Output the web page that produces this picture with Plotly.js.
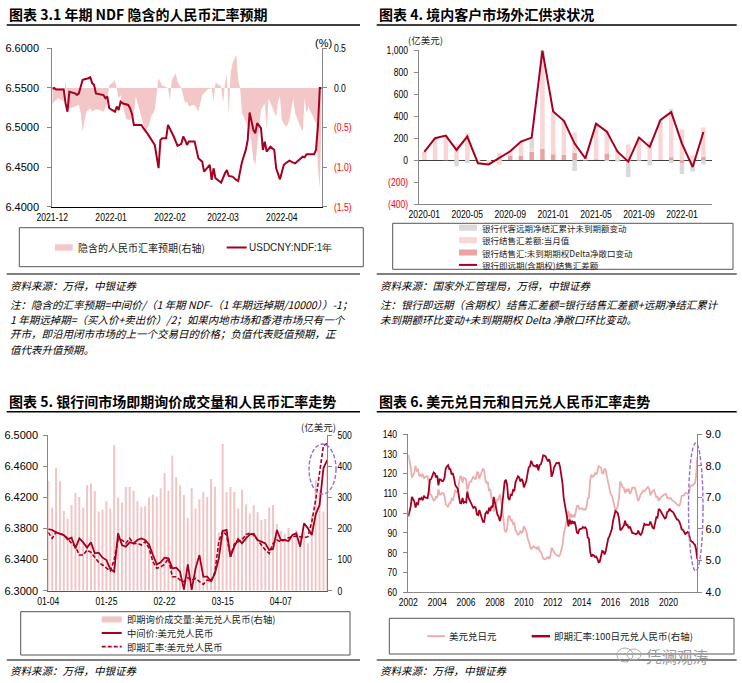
<!DOCTYPE html>
<html><head><meta charset="utf-8">
<script src="https://cdn.plot.ly/plotly-3.0.1.min.js"></script>
<style>html,body{margin:0;padding:0;background:#fff;overflow:hidden}#chart{width:742px;height:683px}</style>
</head><body><div id="chart"></div>
<script>
// ===== Chart 1: 1-year NDF implied CNY expectation =====
const ndfDates = ['2021-12-01','2021-12-02','2021-12-03','2021-12-06','2021-12-07','2021-12-08','2021-12-09','2021-12-10','2021-12-13','2021-12-14','2021-12-15','2021-12-16','2021-12-17','2021-12-20','2021-12-21','2021-12-22','2021-12-23','2021-12-24','2021-12-27','2021-12-28','2021-12-29','2021-12-30','2021-12-31','2022-01-03','2022-01-04','2022-01-05','2022-01-06','2022-01-07','2022-01-10','2022-01-11','2022-01-12','2022-01-13','2022-01-14','2022-01-17','2022-01-18','2022-01-20','2022-01-24','2022-01-26','2022-01-27','2022-01-28','2022-01-30','2022-01-31','2022-02-03','2022-02-05','2022-02-07','2022-02-08','2022-02-09','2022-02-10','2022-02-11','2022-02-14','2022-02-16','2022-02-18','2022-02-19','2022-02-21','2022-02-22','2022-02-23','2022-02-24','2022-02-25','2022-02-28','2022-03-02','2022-03-03','2022-03-04','2022-03-06','2022-03-08','2022-03-09','2022-03-11','2022-03-13','2022-03-14','2022-03-15','2022-03-17','2022-03-18','2022-03-19','2022-03-20','2022-03-21','2022-03-22','2022-03-23','2022-03-24','2022-03-26','2022-03-28','2022-03-29','2022-03-31','2022-04-02','2022-04-03','2022-04-05','2022-04-07','2022-04-08','2022-04-10','2022-04-12','2022-04-13','2022-04-14','2022-04-17','2022-04-18','2022-04-19','2022-04-20','2022-04-21','2022-04-22'];
const ndfValues = [6.5490,6.5500,6.5480,6.5475,6.5480,6.5306,6.5200,6.5452,6.5431,6.5410,6.5431,6.5517,6.5601,6.5622,6.5635,6.5560,6.5538,6.5431,6.5418,6.5410,6.5369,6.5390,6.5243,6.5200,6.5264,6.5222,6.5327,6.5306,6.5285,6.5243,6.5172,6.5033,6.5033,6.5033,6.4991,6.4928,6.4780,6.4486,6.4844,6.4865,6.4865,6.5033,6.4886,6.4768,6.4794,6.4886,6.4843,6.4780,6.4822,6.4822,6.4611,6.4569,6.4443,6.4506,6.4527,6.4338,6.4485,6.4359,6.4304,6.4422,6.4464,6.4388,6.4380,6.4338,6.4325,6.4569,6.4717,6.4843,6.5190,6.4970,6.4928,6.5054,6.5021,6.4991,6.4717,6.4822,6.4696,6.4759,6.4717,6.4485,6.4346,6.4527,6.4548,6.4582,6.4557,6.4548,6.4590,6.4632,6.4624,6.4662,6.4662,6.4662,6.4717,6.5012,6.5500,6.5500];
const expDates = ['2021-12-01','2021-12-02','2021-12-04','2021-12-06','2021-12-07','2021-12-08','2021-12-09','2021-12-11','2021-12-13','2021-12-15','2021-12-16','2021-12-17','2021-12-18','2021-12-19','2021-12-21','2021-12-22','2021-12-24','2021-12-26','2021-12-28','2021-12-30','2021-12-31','2022-01-02','2022-01-03','2022-01-04','2022-01-05','2022-01-06','2022-01-07','2022-01-09','2022-01-11','2022-01-13','2022-01-14','2022-01-16','2022-01-18','2022-01-19','2022-01-21','2022-01-22','2022-01-24','2022-01-26','2022-01-28','2022-01-29','2022-01-31','2022-02-01','2022-02-02','2022-02-04','2022-02-05','2022-02-07','2022-02-09','2022-02-10','2022-02-11','2022-02-13','2022-02-14','2022-02-16','2022-02-18','2022-02-20','2022-02-21','2022-02-23','2022-02-24','2022-02-25','2022-02-27','2022-02-28','2022-03-01','2022-03-02','2022-03-03','2022-03-04','2022-03-05','2022-03-06','2022-03-08','2022-03-09','2022-03-10','2022-03-11','2022-03-13','2022-03-15','2022-03-16','2022-03-17','2022-03-18','2022-03-19','2022-03-20','2022-03-21','2022-03-23','2022-03-24','2022-03-25','2022-03-27','2022-03-29','2022-03-30','2022-03-31','2022-04-01','2022-04-03','2022-04-04','2022-04-05','2022-04-07','2022-04-08','2022-04-10','2022-04-12','2022-04-13','2022-04-14','2022-04-15','2022-04-17','2022-04-19','2022-04-20','2022-04-21','2022-04-22'];
const expValues = [-0.215,-0.173,-0.131,-0.152,-0.173,0.101,-0.257,-0.257,-0.236,-0.215,-0.321,-0.553,-0.405,-0.300,-0.257,-0.300,-0.270,-0.278,-0.300,-0.194,0.038,0.068,0.101,-0.025,-0.131,-0.089,-0.215,-0.397,-0.405,-0.342,-0.110,-0.278,-0.447,-0.553,-0.468,-0.363,-0.278,0.122,0.025,0.025,-0.004,-0.152,0.101,0.186,0.080,-0.004,-0.194,-0.173,-0.236,-0.215,-0.215,-0.300,-0.089,-0.046,-0.017,-0.004,-0.173,0.068,0.038,0.017,-0.194,0.059,0.165,-0.342,0.186,0.312,0.418,0.101,-0.004,-0.321,-0.426,-0.532,-0.700,-0.911,-0.975,-0.743,-0.489,-0.278,-0.194,-0.532,-0.131,-0.236,-0.363,-0.173,-0.110,-0.405,-0.489,-0.468,-0.405,-0.131,-0.321,-0.447,-0.553,-0.131,-0.321,-0.236,-0.342,-0.447,-0.996,-1.270,-0.300];
const c1Ticks = ['2021-12','2022-01','2022-02','2022-03','2022-04'];

// ===== Chart 2: onshore FX supply/demand (亿美元) =====
const fxMonths = ['2020-01','2020-02','2020-03','2020-04','2020-05','2020-06','2020-07','2020-08','2020-09','2020-10','2020-11','2020-12','2021-01','2021-02','2021-03','2021-04','2021-05','2021-06','2021-07','2021-08','2021-09','2021-10','2021-11','2021-12','2022-01','2022-02','2022-03'];
const fxForwardChange = [0,58,-3,-57,-30,-5,-10,62,0,0,100,91,0,25,-100,-5,45,-12,-14,-155,-6,-49,80,-30,-98,-104,-40];
const fxSettleBalance = [68,140,225,148,243,-25,-30,-41,39,131,28,800,389,285,182,20,280,212,90,140,210,168,280,440,277,40,265];
const fxDeltaChange = [5,0,0,0,0,0,0,0,40,36,76,103,52,46,67,0,6,58,0,0,0,0,5,25,-30,0,30];
const fxTotal = [73,198,222,91,213,-30,-40,21,79,167,204,994,441,356,149,15,331,258,76,-15,204,119,365,435,149,-64,255];
const c2Ticks = ['2020-01','2020-05','2020-09','2021-01','2021-05','2021-09','2022-01'];

// ===== Chart 3: interbank spot volume & USD/CNY =====
const spotDates = ['01-04','01-05','01-06','01-07','01-10','01-11','01-12','01-13','01-14','01-17','01-18','01-19','01-20','01-21','01-24','01-25','01-26','01-27','01-28','02-07','02-08','02-09','02-10','02-11','02-14','02-15','02-16','02-17','02-18','02-21','02-22','02-23','02-24','02-25','02-28','03-01','03-02','03-03','03-04','03-07','03-08','03-09','03-10','03-11','03-14','03-15','03-16','03-17','03-18','03-21','03-22','03-23','03-24','03-25','03-28','03-29','03-30','03-31','04-01','04-06','04-07','04-08','04-11','04-12','04-13','04-14','04-15','04-18','04-19','04-20','04-21','04-22','04-25'];
const spotVolume = [352,267,395,352,256,230,275,314,301,267,339,344,320,254,260,287,264,468,299,283,333,333,321,288,269,272,299,308,302,329,378,321,433,365,338,307,234,331,264,294,316,302,359,334,187,471,316,333,318,264,325,277,248,275,252,227,230,267,275,213,192,183,202,168,195,170,190,152,243,355,323,254,400];
const midRate = [6.3792,6.3780,6.3750,6.3732,6.3715,6.3660,6.3681,6.3544,6.3672,6.3621,6.3553,6.3621,6.3480,6.3488,6.3424,6.3394,6.3278,6.3244,6.3737,6.3587,6.3565,6.3621,6.3608,6.3651,6.3672,6.3651,6.3595,6.3458,6.3338,6.3364,6.3424,6.3415,6.3287,6.3296,6.3244,6.3014,6.3338,6.3010,6.3287,6.3458,6.3180,6.3180,6.3124,6.3223,6.3415,6.3767,6.3780,6.3437,6.3565,6.3664,6.3608,6.3672,6.3724,6.3732,6.3651,6.3630,6.3608,6.3523,6.3535,6.3780,6.3651,6.3651,6.3638,6.3715,6.3737,6.3565,6.3865,6.3801,6.3715,6.3981,6.4101,6.4572,6.4679];
const spotRate = [6.3750,6.3672,6.3750,6.3732,6.3715,6.3672,6.3608,6.3565,6.3458,6.3458,6.3523,6.3493,6.3424,6.3364,6.3330,6.3287,6.3253,6.3394,6.3660,6.3651,6.3608,6.3672,6.3604,6.3608,6.3587,6.3630,6.3544,6.3373,6.3287,6.3308,6.3338,6.3415,6.3180,6.3180,6.3137,6.3116,6.3167,6.3137,6.3158,6.3116,6.3081,6.3137,6.3116,6.3244,6.3630,6.3767,6.3715,6.3437,6.3600,6.3630,6.3651,6.3724,6.3737,6.3715,6.3651,6.3578,6.3523,6.3480,6.3608,6.3651,6.3630,6.3651,6.3681,6.3694,6.3702,6.3694,6.3681,6.3694,6.3887,6.4165,6.4486,6.4863,6.4893];
const c3Ticks = ['01-04','01-25','02-22','03-15','04-07'];
const c3LeftTicks = [6.30, 6.34, 6.38, 6.42, 6.46, 6.50];

// ===== Chart 4: USD/JPY and 100JPY/CNY (monthly, 2002-04 .. 2022-04) =====
const jpFirstYear = 2002, jpFirstMonth = 4;
const usdjpy = [129.5,126.4,123.3,118.0,119.0,120.5,123.9,121.5,122.0,
118.7,119.3,118.6,119.9,117.4,118.3,118.7,118.7,114.8,109.5,109.2,107.7,
106.3,106.7,108.5,107.7,112.2,109.4,109.5,110.2,110.1,108.8,104.7,103.8,
103.3,104.9,104.9,107.2,106.6,108.8,111.9,110.6,111.2,114.9,118.5,118.5,
115.5,117.9,117.3,117.1,111.5,114.5,115.7,115.9,117.2,118.6,117.3,117.3,
120.6,120.5,117.3,118.9,120.8,122.6,121.6,116.7,115.0,115.8,111.2,112.3,
107.6,107.1,100.8,102.6,104.2,106.9,106.9,109.4,106.6,100.1,96.9,91.3,
90.4,92.5,97.9,98.8,96.4,96.6,94.5,94.9,91.4,90.3,89.1,89.5,
91.1,90.1,90.7,93.4,91.8,90.9,87.6,85.4,84.4,81.8,82.6,83.3,
82.6,82.6,81.7,83.2,81.1,80.5,79.3,77.0,76.8,76.7,77.5,77.8,
76.9,78.5,82.5,81.3,79.7,79.3,78.9,78.7,78.2,79.0,80.9,83.6,
89.1,93.1,94.8,97.7,101.1,97.3,99.7,97.8,99.2,97.8,100.1,103.5,
103.8,102.1,102.3,102.5,101.8,102.1,101.7,102.9,107.4,108.0,116.4,119.4,
118.3,118.8,120.4,119.5,120.8,123.7,123.3,123.0,120.1,120.1,122.6,121.6,
118.2,114.7,112.9,109.6,109.0,105.4,104.1,101.3,102.0,103.8,108.5,116.1,
114.9,113.1,112.9,110.1,112.2,110.9,112.4,109.8,110.8,112.9,112.8,112.9,
110.9,107.9,106.0,107.6,109.7,110.1,111.4,111.0,111.9,112.8,113.3,112.2,
108.9,110.5,111.2,111.7,109.9,108.1,108.2,106.2,107.5,108.1,108.9,109.2,
109.3,110.0,107.7,107.8,107.2,107.6,106.7,106.0,105.6,105.2,104.4,103.8,
103.8,105.4,108.7,109.1,109.1,110.1,110.2,109.8,110.2,113.1,114.0,113.9,
114.9,115.2,118.5,128.5];
const jpycny = [6.390,6.548,6.713,7.014,6.956,6.869,6.680,6.812,6.784,
6.973,6.938,6.979,6.903,7.050,6.997,6.973,6.973,7.210,7.559,7.580,7.685,
7.786,7.757,7.629,7.685,7.377,7.566,7.559,7.511,7.518,7.608,7.905,7.974,
8.013,7.890,7.890,7.721,7.765,7.607,7.390,7.324,7.275,7.041,6.819,6.810,
6.978,6.828,6.854,6.840,7.184,6.987,6.906,6.877,6.758,6.661,6.701,6.667,
6.451,6.432,6.598,6.493,6.349,6.223,6.225,6.487,6.539,6.477,6.673,6.563,
6.729,6.685,7.014,6.823,6.699,6.455,6.389,6.252,6.407,6.823,7.049,7.503,
7.555,7.384,6.977,6.913,7.085,7.070,7.228,7.197,7.473,7.564,7.666,7.631,
7.497,7.580,7.530,7.313,7.440,7.514,7.740,7.951,7.974,8.154,8.063,7.995,
7.990,7.966,8.042,7.849,8.015,8.037,8.146,8.325,8.320,8.292,8.206,8.136,
8.205,8.025,7.648,7.749,7.942,8.020,8.086,8.081,8.095,7.962,7.713,7.452,
6.981,6.702,6.561,6.336,6.083,6.300,6.148,6.258,6.169,6.237,6.094,5.884,
5.867,5.984,6.002,6.010,6.061,6.033,6.057,5.986,5.726,5.685,5.275,5.126,
5.182,5.168,5.116,5.130,5.066,4.947,4.964,5.122,5.304,5.287,5.196,5.304,
5.550,5.702,5.766,5.903,5.991,6.252,6.407,6.565,6.539,6.493,6.313,5.960,
5.997,6.074,6.103,6.258,6.123,6.132,6.023,6.075,5.930,5.872,5.869,5.837,
5.834,5.857,5.953,5.846,5.816,5.876,6.032,6.162,6.130,6.144,6.125,6.132,
6.235,6.100,6.034,6.016,6.215,6.374,6.359,6.638,6.595,6.540,6.446,6.419,
6.331,6.355,6.537,6.558,6.642,6.580,6.560,6.528,6.449,6.369,6.303,6.291,
6.233,6.129,5.989,5.976,5.894,5.840,5.871,5.902,5.862,5.668,5.605,5.593,
5.535,5.503,5.359,5.050];
const c4Ticks = ['2002','2004','2006','2008','2010','2012','2014','2016','2018','2020'];

// ---------- helpers ----------
const W = 742, H = 683;
const X = v => v / W, Y = v => 1 - v / H;
const DARK = '#A50021', AREA = '#F3C7C7', RED = '#FF0000';
const NUM = '"Liberation Sans",Arial,sans-serif';
const CJK = '"Noto Sans CJK SC","Noto Sans",sans-serif';
const tf = {family: NUM, size: 11, color: '#000'};
const neg = t => '<span style="color:' + RED + '">' + t + '</span>';
const NARROW = 0.78;

const jpMonths = usdjpy.map((_, i) => {
  const m = jpFirstMonth - 1 + i;
  const yy = jpFirstYear + Math.floor(m / 12), mm = (m % 12) + 1;
  return yy + '-' + String(mm).padStart(2, '0') + '-01';
});

const traces = [
  {type:'scatter', mode:'lines', x:expDates, y:expValues, xaxis:'x', yaxis:'y', fill:'tozeroy',
   fillcolor:AREA, line:{width:0, color:AREA}},
  {type:'scatter', mode:'lines', x:ndfDates, y:ndfValues, xaxis:'x', yaxis:'y2', line:{color:DARK, width:2}},
  {type:'bar', x:fxMonths, y:fxDeltaChange, xaxis:'x2', yaxis:'y3', marker:{color:'#E9A3A3'}, width:0.42},
  {type:'bar', x:fxMonths, y:fxSettleBalance, xaxis:'x2', yaxis:'y3', marker:{color:'#FAD6D6'}, width:0.42},
  {type:'bar', x:fxMonths, y:fxForwardChange, xaxis:'x2', yaxis:'y3', marker:{color:'#D9D9D9'}, width:0.42},
  {type:'scatter', mode:'lines', x:fxMonths, y:fxTotal, xaxis:'x2', yaxis:'y3', line:{color:DARK, width:2}},
  {type:'bar', x:spotDates, y:spotVolume, xaxis:'x3', yaxis:'y4', marker:{color:'#F2C4C4'}, width:0.5},
  {type:'scatter', mode:'lines', x:spotDates, y:midRate, xaxis:'x3', yaxis:'y5', line:{color:DARK, width:1.8}},
  {type:'scatter', mode:'lines', x:spotDates, y:spotRate, xaxis:'x3', yaxis:'y5', line:{color:DARK, width:1.6, dash:'4px,2px'}},
  {type:'scatter', mode:'lines', x:jpMonths, y:usdjpy, xaxis:'x4', yaxis:'y6', line:{color:'#EBAEAE', width:1.8}},
  {type:'scatter', mode:'lines', x:jpMonths, y:jpycny, xaxis:'x4', yaxis:'y7', line:{color:DARK, width:1.8}}
];

const axBase = {showgrid:false, zeroline:false, tickfont:tf, fixedrange:true};
const yl = (o) => Object.assign({}, axBase, {showline:true, linecolor:'#888', linewidth:1, ticks:'outside', ticklen:4, tickcolor:'#888'}, o);

const layout = {
  width: W, height: H, margin:{l:0, r:0, t:0, b:0}, paper_bgcolor:'#fff', plot_bgcolor:'rgba(0,0,0,0)',
  showlegend:false, barmode:'relative', font:{family:NUM, size:11, color:'#000'},
  xaxis: Object.assign({}, axBase, {domain:[X(52.3), X(321.7)], anchor:'y', type:'date',
    range:['2021-12-01','2022-04-22'], tickmode:'array',
    tickvals:['2021-12-01','2022-01-01','2022-02-01','2022-03-01','2022-04-01'], ticktext:c1Ticks,
    showline:true, linecolor:'#000', linewidth:1.5, ticks:''}),
  yaxis: yl({domain:[Y(206.7), Y(48.3)], anchor:'x', side:'right', range:[-1.5, 0.5], tickmode:'array',
    tickvals:[0.5, 0, -0.5, -1, -1.5], ticktext:['0.5','0.0',neg('(0.5)'),neg('(1.0)'),neg('(1.5)')],
    ticklabelstandoff:5}),
  yaxis2: yl({overlaying:'y', anchor:'x', side:'left', range:[6.4, 6.6], dtick:0.05, tick0:6.4, tickformat:'.4f',
    ticklabelstandoff:6}),
  xaxis2: Object.assign({}, axBase, {domain:[X(419.3), X(712)], anchor:'y3', type:'category',
    range:[-0.47, 26.8], tickmode:'array', tickvals:c2Ticks, ticktext:c2Ticks,
    showline:true, linecolor:'#888', linewidth:1, ticks:''}),
  yaxis3: yl({domain:[Y(204), Y(50)], anchor:'x2', range:[-400, 1000], tickmode:'array',
    tickvals:[1000,800,600,400,200,0,-200,-400],
    ticktext:['1,000','800','600','400','200','0',neg('(200)'),neg('(400)')],
    zeroline:true, zerolinecolor:'#404040', zerolinewidth:1, ticklabelstandoff:4}),
  xaxis3: Object.assign({}, axBase, {domain:[X(48.3), X(327.3)], anchor:'y4', type:'category',
    range:[0, 72], tickmode:'array', tickvals:c3Ticks, ticktext:c3Ticks,
    showline:true, linecolor:'#555', linewidth:1, ticks:''}),
  yaxis4: yl({domain:[Y(590.7), Y(435)], anchor:'x3', side:'right', range:[0, 500], dtick:100, ticklabelstandoff:3}),
  yaxis5: yl({overlaying:'y4', anchor:'x3', side:'left', range:[6.30, 6.50], tickmode:'array',
    tickvals:c3LeftTicks, ticktext:c3LeftTicks.map(v => v.toFixed(4)), ticklabelstandoff:3}),
  xaxis4: Object.assign({}, axBase, {domain:[X(408.3), X(697.3)], anchor:'y6', type:'date',
    range:['2002-04-01','2022-04-01'], tickmode:'array',
    tickvals:c4Ticks.map(t => t + '-04-01'), ticktext:c4Ticks,
    showline:true, linecolor:'#888', linewidth:1, ticks:''}),
  yaxis6: yl({domain:[Y(592.3), Y(434)], anchor:'x4', side:'left', range:[60, 140], dtick:10, ticklabelstandoff:4}),
  yaxis7: yl({overlaying:'y6', anchor:'x4', side:'right', range:[4, 9], dtick:1, tickformat:'.1f', ticklabelstandoff:1}),
  shapes: [], annotations: []
};

const S = layout.shapes, A = layout.annotations;
const hline = (x0, x1, y, color, w, dash) => S.push({type:'line', xref:'paper', yref:'paper',
  x0:X(x0), x1:X(x1), y0:Y(y), y1:Y(y), line:{color:color, width:w, dash:dash || 'solid'}});
const box = (x0, y0, x1, y1, line, fill) => S.push({type:'rect', xref:'paper', yref:'paper',
  x0:X(x0), x1:X(x1), y0:Y(y1), y1:Y(y0), line:line, fillcolor:fill || 'rgba(0,0,0,0)'});
const txt = (text, x, y, o) => A.push(Object.assign({text:text, xref:'paper', yref:'paper',
  x:X(x), y:Y(y), xanchor:'left', yanchor:'middle', showarrow:false, borderpad:0,
  font:{family:CJK, size:10, color:'#222'}}, o || {}));

[[6.7,360],[376.7,736.7]].forEach(([a,b]) => { hline(a,b,25,'#000',1.5); hline(a,b,274,'#000',1.2); });
[[6.7,360],[376.7,736.7]].forEach(([a,b]) => { hline(a,b,411.7,'#000',1.5); hline(a,b,660,'#000',1.2); });

const tfont = {family:CJK, size:14, color:'#000', weight:700};
txt('图表 3.1 年期 NDF 隐含的人民币汇率预期', 7.5, 14, {font:tfont});
txt('图表 4. 境内客户市场外汇供求状况', 378, 14, {font:tfont});
txt('图表 5. 银行间市场即期询价成交量和人民币汇率走势', 7.5, 400.5, {font:tfont});
txt('图表 6. 美元兑日元和日元兑人民币汇率走势', 378, 400.5, {font:tfont});

const sfont = {family:CJK, size:10.5, color:'#000', style:'italic'};
txt('资料来源：万得，中银证券', 9, 285, {font:sfont});
txt('注：隐含的汇率预期=中间价/（1 年期 NDF-（1 年期远掉期/10000））-1；', 9, 304, {font:sfont});
txt('1 年期远掉期=（买入价+卖出价）/2；如果内地市场和香港市场只有一个', 9, 319, {font:sfont});
txt('开市，即沿用闭市市场的上一个交易日的价格；负值代表贬值预期，正', 9, 334, {font:sfont});
txt('值代表升值预期。', 9, 349, {font:sfont});
txt('资料来源：国家外汇管理局，万得，中银证券', 379, 285, {font:sfont});
txt('注：银行即远期（含期权）结售汇差额=银行结售汇差额+远期净结汇累计', 379, 304, {font:sfont});
txt('未到期额环比变动+未到期期权 Delta 净敞口环比变动。', 379, 319, {font:sfont});
txt('资料来源：万得，中银证券', 9, 670.5, {font:sfont});
txt('资料来源：万得，中银证券', 379, 670.5, {font:sfont});

txt('(%)', 323, 42.5, {xanchor:'center', font:{family:NUM, size:11, color:'#000'}});
txt('(亿美元)', 425.5, 40.5, {xanchor:'center', font:{family:CJK, size:9.5, color:'#222'}});
txt('(亿美元)', 318, 427.5, {xanchor:'center', font:{family:CJK, size:9.5, color:'#222'}});

const lb = {color:'#555', width:1};
box(19.3, 227.7, 363.3, 266.7, lb);
box(392.7, 223.3, 733, 269.3, lb);
box(20.7, 611.7, 350, 655, lb);
box(389.3, 618.3, 734, 654, lb);

// legend 1
box(55, 244.3, 72.7, 250.7, {width:0}, AREA);
txt('隐含的人民币汇率预期(右轴)', 76.7, 247.5);
hline(226.7, 246.7, 247.5, DARK, 2);
txt('USDCNY:NDF:1年', 248.3, 247.5, {font:{family:NUM, size:10, color:'#222'}});

// legend 2 (rows spaced so the CJK line boxes do not overlap)
const l2Names = ['银行代客远期净结汇累计未到期额变动','银行结售汇差额:当月值','银行结售汇:未到期期权Delta净敞口变动','银行即远期(含期权)结售汇差额'];
const l2Size = 8.5, l2Pitch = 12.4, l2Mid = 246.3;
const l2Row = k => l2Mid + (k - 1.5) * l2Pitch;
l2Names.forEach((n, k) => txt(n, 480.7, l2Row(k), {font:{family:CJK, size:l2Size, color:'#222'}}));
box(459, l2Row(0) - 3, 477, l2Row(0) + 3, {width:0}, '#D9D9D9');
box(459, l2Row(1) - 3, 477, l2Row(1) + 3, {width:0}, '#FAD6D6');
box(459, l2Row(2) - 3, 477, l2Row(2) + 3, {width:0}, '#E9A3A3');
hline(459, 477, l2Row(3), DARK, 2);

// legend 3
const l3Names = ['即期询价成交量:美元兑人民币(右轴)','中间价:美元兑人民币','即期汇率:美元兑人民币'];
const l3Size = 9.3, l3Pitch = 13.6, l3Mid = 633;
const l3Row = k => l3Mid + (k - 1) * l3Pitch;
l3Names.forEach((n, k) => txt(n, 126, l3Row(k), {font:{family:CJK, size:l3Size, color:'#222'}}));
box(101.7, l3Row(0) - 3, 121.7, l3Row(0) + 3, {width:0}, '#F2C4C4');
hline(101.7, 121.7, l3Row(1), DARK, 2);
hline(101.7, 121.7, l3Row(2), DARK, 1.8, '4px,2px');

// legend 4
hline(427.3, 445, 636.2, '#EBAEAE', 2);
txt('美元兑日元', 448.3, 636.2, {font:{family:CJK, size:9.5, color:'#222'}});
hline(531.7, 550, 636.2, DARK, 2.5);
txt('即期汇率:100日元兑人民币(右轴)', 552.7, 636.2, {font:{family:CJK, size:9.5, color:'#222'}});

const ell = (x0, y0, x1, y1) => S.push({type:'circle', xref:'paper', yref:'paper', x0:X(x0), x1:X(x1),
  y0:Y(y1), y1:Y(y0), line:{color:'#9A6BD0', width:1.4, dash:'4px,2px'}});
ell(309, 444, 336, 494);
ell(688.5, 443, 703, 571);

// watermark
S.push({type:'circle', xref:'paper', yref:'paper', x0:X(617), x1:X(633), y0:Y(662), y1:Y(648), line:{color:'#aaa', width:1}});
S.push({type:'circle', xref:'paper', yref:'paper', x0:X(627), x1:X(641), y0:Y(660), y1:Y(649), line:{color:'#aaa', width:1}});
txt('凭澜观涛', 645, 655.8, {font:{family:CJK, size:15.5, color:'#9a9a9a'}});

Plotly.newPlot('chart', traces, layout, {staticPlot:true, displayModeBar:false}).then(gd => {
  // Reference tick labels use a narrow face: compress each tick label horizontally about its anchor.
  gd.querySelectorAll('g.xaxislayer-above text, g.yaxislayer-above text').forEach(t => {
    const x = parseFloat(t.getAttribute('x')) || 0;
    const tr = t.getAttribute('transform') || '';
    t.setAttribute('transform', tr + ' translate(' + x + ',0) scale(' + NARROW + ',1) translate(' + (-x) + ',0)');
  });
});
</script>
</body></html>
